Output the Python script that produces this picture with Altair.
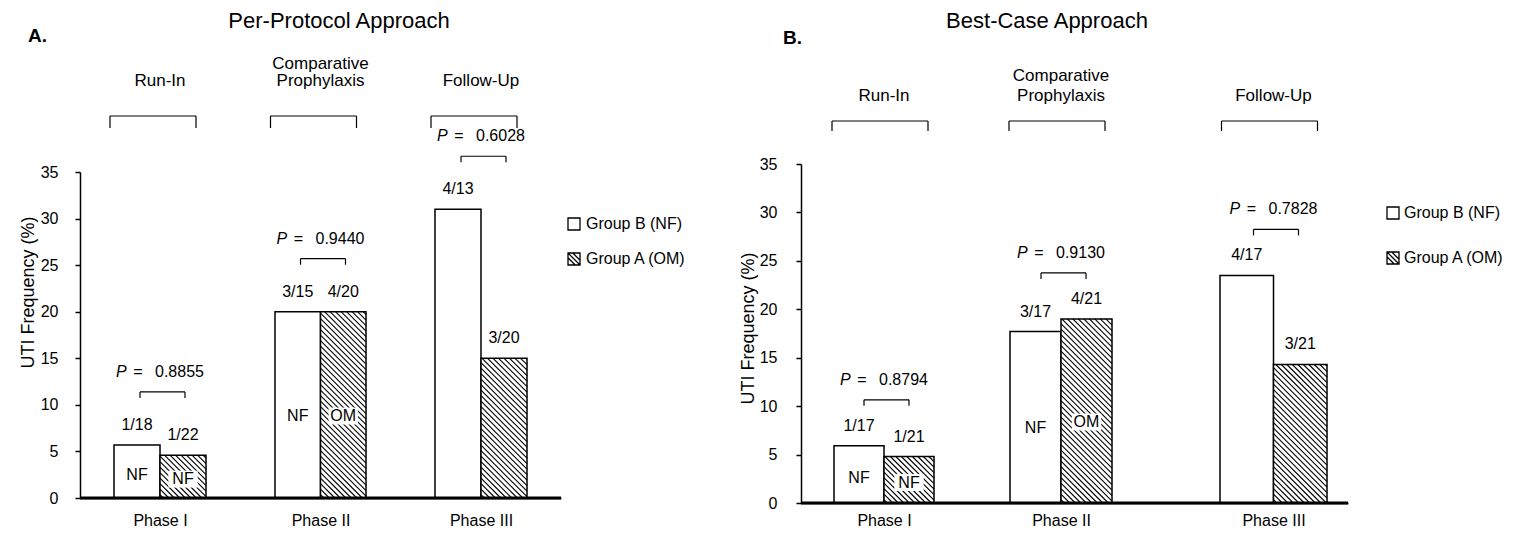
import json
import altair as alt
import pandas as pd

# ---------------- data ----------------
phases = ["Phase I", "Phase II", "Phase III"]
periods = [["Run-In"], ["Comparative", "Prophylaxis"], ["Follow-Up"]]
group_names = ["Group B (NF)", "Group A (OM)"]

pp_title = "Per-Protocol Approach"
pp_nf_pct = [5.7, 20.0, 31.0]
pp_om_pct = [4.6, 20.0, 15.0]
pp_nf_frac = ["1/18", "3/15", "4/13"]
pp_om_frac = ["1/22", "4/20", "3/20"]
pp_p = ["0.8855", "0.9440", "0.6028"]

bc_title = "Best-Case Approach"
bc_nf_pct = [5.9, 17.7, 23.5]
bc_om_pct = [4.8, 19.0, 14.3]
bc_nf_frac = ["1/17", "3/17", "4/17"]
bc_om_frac = ["1/21", "4/21", "3/21"]
bc_p = ["0.8794", "0.9130", "0.7828"]

nf_inside = ["NF", "NF", ""]
om_inside = ["NF", "OM", ""]

# ---------------- style / layout ----------------
FONT = "Liberation Sans"
HALF = 0.3  # width of one bar in x-data units
XDOM = [-1, -HALF, HALF, 1 - HALF, 1 + HALF, 2 - HALF, 2 + HALF, 3]
BOX_PATH = "M-1,-1H1V1H-1Z"
HATCH_PATH = "M-1,-1H1V1H-1Z M-1,-1L1,1 M-0.2,-1L1,0.2 M-1,-0.2L0.2,1"
KNOCK_PATH = "M-1.3,-0.75H1.3V0.75H-1.3Z"

LA = dict(width=481, height=334, xrange=[0, 34, 126, 195, 286, 355, 447, 481],
          yrange=[334, 8], ppy=326 / 35.0, xlabpad=14, ylabpad=17,
          titleX=-52, titleY=128, title_x=259, title_y=-143,
          letter="A.", letter_x=-52, letter_y=-128,
          pb_dx=(-50, 36), pb_top=-48, pb_tip=-36, plab_y=-74, lh=17,
          p_br=-53, p_tip=-47, p_txt=-73,
          leg_sym_x=494, leg_txt_x=506, leg_y=[60, 95])
LB = dict(width=547, height=339, xrange=[0, 33, 133, 209, 311, 419, 526, 547],
          yrange=[339, 0], ppy=339 / 35.0, xlabpad=9, ylabpad=19,
          titleX=-53, titleY=164, title_x=246, title_y=-143,
          letter="B.", letter_x=-18, letter_y=-126,
          pb_dx=(-52, 44), pb_top=-43, pb_tip=-33, plab_y=-59, lh=20,
          p_br=-46, p_tip=-40, p_txt=-66,
          leg_sym_x=592, leg_txt_x=603, leg_y=[49, 94])


def hatch_table(pcts, L, spacing=5.5):
    rows = []
    for i, v in enumerate(pcts):
        ppx = (L["xrange"][2 * i + 2] - L["xrange"][2 * i + 1]) / (2 * HALF)
        w = HALF * ppx
        h = v * L["ppy"]
        c = spacing * 0.6
        while c < w + h:
            xa = max(0.0, c - h)
            xb = min(w, c)
            rows.append(dict(x=i + xa / ppx, x2=i + xb / ppx,
                             y=(c - xa) / L["ppy"], y2=(c - xb) / L["ppy"]))
            c += spacing
    return pd.DataFrame(rows)


def panel(title, nf_pct, om_pct, nf_frac, om_frac, pvals, L):
    rows = []
    for i in range(3):
        rows.append(dict(idx=i, grp="B", pct=nf_pct[i], frac=nf_frac[i], inside=nf_inside[i]))
        rows.append(dict(idx=i, grp="A", pct=om_pct[i], frac=om_frac[i], inside=om_inside[i]))
    bars = pd.DataFrame(rows)
    pdf = pd.DataFrame(dict(idx=[0, 1, 2],
                            ymax=[max(a, b) for a, b in zip(nf_pct, om_pct)],
                            pval=pvals))
    per = pd.DataFrame(dict(idx=[0, 1, 2]))
    lab_rows = []
    for i, lines in enumerate(periods):
        for k, line in enumerate(reversed(lines)):
            lab_rows.append(dict(idx=i, line=line, level=k))
    plab = pd.DataFrame(lab_rows)
    one = pd.DataFrame(dict(t=[title]))
    ends = pd.DataFrame(dict(x0=[XDOM[0]], x1=[XDOM[-1]], y0=[0.0]))

    xs = alt.Scale(domain=XDOM, range=L["xrange"], nice=False, zero=False)
    ys = alt.Scale(domain=[0, 35], range=L["yrange"], nice=False, zero=False)

    xaxis = alt.Axis(values=[0, 1, 2], labelExpr=json.dumps(phases) + "[datum.value]",
                     ticks=False, labelPadding=L["xlabpad"], title=None, domain=True,
                     grid=False, labelFontSize=16, labelBaseline="top")
    yaxis = alt.Axis(values=list(range(0, 36, 5)), tickSize=5, labelPadding=L["ylabpad"],
                     title="UTI Frequency (%)", titleX=L["titleX"], titleY=L["titleY"],
                     titleAngle=-90, titleBaseline="middle", titleAlign="center",
                     titleFontSize=18, titleFontWeight="normal", grid=False,
                     labelFontSize=16)

    def X(f):
        return alt.X(f, scale=xs, axis=xaxis, title=None)

    def Y(f):
        return alt.Y(f, scale=ys, axis=yaxis, title="UTI Frequency (%)")

    base = (alt.Chart(bars)
            .transform_calculate(x0="datum.idx - (datum.grp == 'B' ? %f : 0)" % HALF)
            .transform_calculate(x1="datum.x0 + %f" % HALF, xc="datum.x0 + %f" % (HALF / 2),
                                 yin="datum.pct * 0.44"))

    layers = []
    layers.append(base.mark_rect(fill="white", stroke="black", strokeWidth=1.5).encode(
        x=X("x0:Q"), x2="x1:Q", y=Y("pct:Q"), y2=alt.datum(0)))
    layers.append(alt.Chart(hatch_table(om_pct, L)).mark_rule(
        stroke="black", strokeWidth=1.1).encode(
        x=X("x:Q"), x2="x2:Q", y=Y("y:Q"), y2="y2:Q"))
    layers.append(base.transform_filter("datum.grp == 'A' && datum.inside != ''").mark_point(
        shape=KNOCK_PATH, size=510, filled=True, color="white", opacity=1).encode(
        x=X("xc:Q"), y=Y("yin:Q")))
    layers.append(base.transform_filter("datum.inside != ''").mark_text(
        font=FONT, fontSize=16, baseline="middle", color="black").encode(
        x=X("xc:Q"), y=Y("yin:Q"), text="inside:N"))
    layers.append(base.mark_text(font=FONT, fontSize=16, baseline="middle", dy=-20,
                                 color="black").encode(
        x=X("xc:Q"), y=Y("pct:Q"), text="frac:N"))
    # baseline along the category axis (drawn on top of the bars)
    layers.append(alt.Chart(ends).mark_rule(color="#000000", strokeWidth=3).encode(
        x=X("x0:Q"), x2="x1:Q", y=Y("y0:Q")))

    # P-value brackets
    pb = alt.Chart(pdf)
    layers.append(pb.mark_rule(color="black", strokeWidth=1.2, xOffset=-20, x2Offset=25,
                               yOffset=L["p_br"]).encode(
        x=X("idx:Q"), x2="idx:Q", y=Y("ymax:Q")))
    for dx in (-20, 25):
        layers.append(pb.mark_rule(color="black", strokeWidth=1.2, xOffset=dx,
                                   yOffset=L["p_br"], y2Offset=L["p_tip"]).encode(
            x=X("idx:Q"), y=Y("ymax:Q"), y2="ymax:Q"))
    layers.append(pb.mark_text(font=FONT, fontSize=16, fontStyle="italic", align="left",
                               baseline="middle", dx=-44, dy=L["p_txt"], color="black").encode(
        x=X("idx:Q"), y=Y("ymax:Q"), text=alt.value("P")))
    layers.append(pb.mark_text(font=FONT, fontSize=16, align="center",
                               baseline="middle", dx=-22, dy=L["p_txt"], color="black").encode(
        x=X("idx:Q"), y=Y("ymax:Q"), text=alt.value("=")))
    layers.append(pb.mark_text(font=FONT, fontSize=16, align="left",
                               baseline="middle", dx=-5, dy=L["p_txt"], color="black").encode(
        x=X("idx:Q"), y=Y("ymax:Q"), text="pval:N"))

    # study period brackets and labels
    pc = alt.Chart(per)
    l, r = L["pb_dx"]
    layers.append(pc.mark_rule(color="black", strokeWidth=1.2, xOffset=l, x2Offset=r).encode(
        x=X("idx:Q"), x2="idx:Q", y=alt.value(L["pb_top"])))
    for dx in (l, r):
        layers.append(pc.mark_rule(color="black", strokeWidth=1.2, xOffset=dx).encode(
            x=X("idx:Q"), y=alt.value(L["pb_top"]), y2=alt.value(L["pb_tip"])))
    for k in (0, 1):
        layers.append(alt.Chart(plab).transform_filter("datum.level == %d" % k).mark_text(
            font=FONT, fontSize=17, baseline="bottom", color="black").encode(
            x=X("idx:Q"), y=alt.value(L["plab_y"] - k * L["lh"]), text="line:N"))

    # panel title and letter
    tc = alt.Chart(one)
    layers.append(tc.mark_text(font=FONT, fontSize=22, baseline="middle", color="black").encode(
        x=alt.value(L["title_x"]), y=alt.value(L["title_y"]), text="t:N"))
    layers.append(tc.mark_text(font=FONT, fontSize=19, fontWeight="bold", align="left",
                               baseline="middle", color="black").encode(
        x=alt.value(L["letter_x"]), y=alt.value(L["letter_y"]), text=alt.value(L["letter"])))

    # legend
    for k, (name, path) in enumerate(zip(group_names, [BOX_PATH, HATCH_PATH])):
        lc = alt.Chart(pd.DataFrame(dict(name=[name])))
        layers.append(lc.mark_point(shape=path, size=144, fill="white", stroke="black",
                                    strokeWidth=1.3, opacity=1).encode(
            x=alt.value(L["leg_sym_x"]), y=alt.value(L["leg_y"][k])))
        layers.append(lc.mark_text(font=FONT, fontSize=16, align="left", baseline="middle",
                                   color="black").encode(
            x=alt.value(L["leg_txt_x"]), y=alt.value(L["leg_y"][k]), text="name:N"))

    return alt.layer(*layers).properties(width=L["width"], height=L["height"])


pa = panel(pp_title, pp_nf_pct, pp_om_pct, pp_nf_frac, pp_om_frac, pp_p, LA)
pb_ = panel(bc_title, bc_nf_pct, bc_om_pct, bc_nf_frac, bc_om_frac, bc_p, LB)

chart = (alt.hconcat(pa, pb_, spacing=240, bounds="flush")
         .properties(padding={"left": 10, "top": 2, "right": 0, "bottom": 0})
         .configure_view(stroke=None)
         .configure_axis(domainColor="black", tickColor="black", labelColor="black",
                         titleColor="black", labelFont=FONT, titleFont=FONT,
                         domainWidth=1.5, tickWidth=1.5))

chart.save("out.html", embed_options={"renderer": "svg", "actions": False})
